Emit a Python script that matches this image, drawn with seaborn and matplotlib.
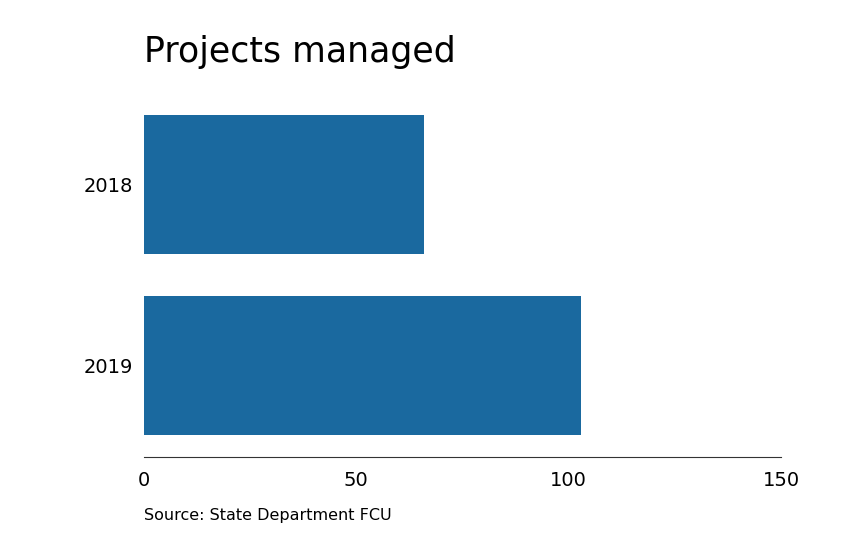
import matplotlib
matplotlib.use("Agg")
import matplotlib.pyplot as plt
import seaborn as sns
import pandas as pd

years = ["2018", "2019"]
values = [66, 103]
xticks = [0, 50, 100, 150]

df = pd.DataFrame({"year": years, "value": values})
fig = plt.figure(figsize=(8.44, 5.5), dpi=100)
ax = fig.add_axes([0.1706, 0.169, 0.7548, 0.66])
sns.barplot(data=df, x="value", y="year", color="#1a699f", saturation=1, width=0.768, ax=ax)
ax.set_xlim(0, 150)
ax.set_ylim(1.505, -0.5)
ax.set_xticks(xticks)
ax.set_xlabel("")
ax.set_ylabel("")
for s in ["top", "right", "left"]:
    ax.spines[s].set_visible(False)
ax.spines["bottom"].set_color("#333333")
ax.tick_params(axis="x", length=0, labelsize=14, pad=10)
ax.tick_params(axis="y", length=0, labelsize=14, pad=8)
fig.text(0.1706, 0.905, "Projects managed", fontsize=25, va="center", ha="left")
fig.text(0.1706, 0.063, "Source: State Department FCU", fontsize=11.5, va="center", ha="left")
fig.savefig("out.png", dpi=100)
